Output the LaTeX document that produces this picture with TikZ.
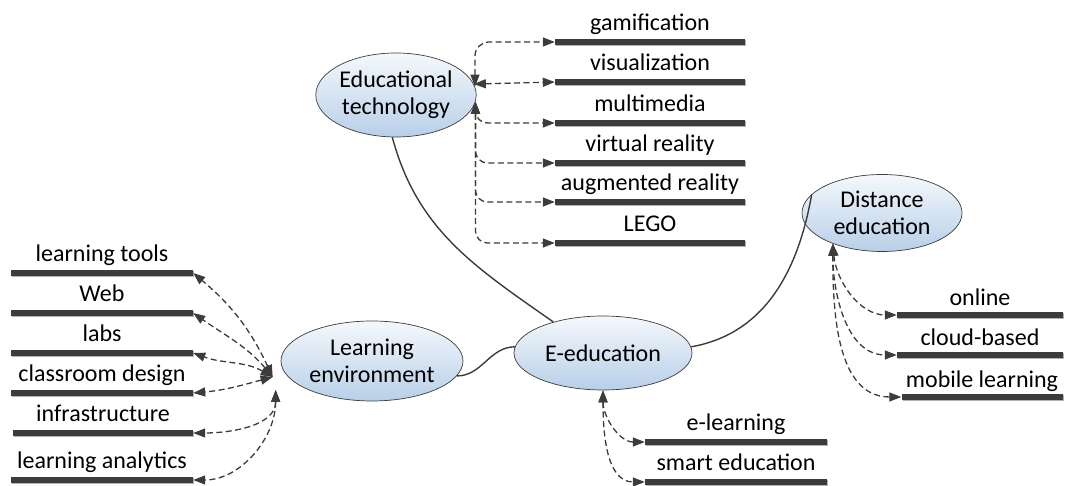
\documentclass[tikz,border=0pt]{standalone}
\usepackage{fontspec}
\setmainfont{Carlito}
\usetikzlibrary{arrows.meta,shapes.geometric,shadows}
\definecolor{dk}{HTML}{3C3C3C}
\definecolor{elltop}{HTML}{F4F8FC}
\definecolor{ellbot}{HTML}{B8CFE8}
\begin{document}
\begin{tikzpicture}[x=1pt,y=1pt,
 font=\fontsize{24}{27}\selectfont,
 topic/.style={ellipse, draw=dk, line width=0.7pt, top color=elltop, bottom color=ellbot, inner sep=0pt, align=center},
 bar/.style={rectangle, fill=dk, minimum height=6pt, inner sep=0pt, drop shadow={shadow xshift=1.2pt, shadow yshift=-1.2pt, fill=black!30, opacity=1}},
 lbl/.style={anchor=base, inner sep=0pt},
 link/.style={draw=dk, line width=1.4pt},
 dlink/.style={draw=dk, line width=1.3pt, dash pattern=on 6pt off 3.5pt, {Triangle[length=12pt,width=9pt]}-{Triangle[length=12pt,width=9pt]}},
]
\useasboundingbox (0,0) rectangle (1068,486);

% topics
\node[topic, minimum width=148pt, minimum height=84pt] (ET) at (396,391) {Educational\\technology};
\node[topic, minimum width=160pt, minimum height=77pt] (DE) at (882,273) {Distance\\education};
\node[topic, minimum width=178pt, minimum height=74pt] (EE) at (603,133) {E-education};
\node[topic, minimum width=182pt, minimum height=80pt] (LE) at (372,125) {Learning\\environment};

% top group
\foreach \n/\y/\t in {ga/444/gamification, vi/404/visualization, mm/363/multimedia, vr/323/virtual reality, ar/284/augmented reality, lg/243/LEGO}{
  \node[bar, minimum width=190pt] (\n) at (650,\y) {};
  \node[lbl] (\n t) at (650,\y+11) {\t};
}
% left group
\foreach \n/\x/\w/\y/\t in {lt/102/182/213/learning tools, wb/102/182/173/Web, lb/102/182/133/labs, cd/102/182/93/classroom design, in/103/180/53/infrastructure, la/102/182/6/learning analytics}{
  \node[bar, minimum width=\w pt] (\n) at (\x,\y) {};
  \node[lbl] (\n t) at (\x,\y+11) {\t};
}
% bottom group
\foreach \n/\y/\t in {el/44/e-learning, se/4/smart education}{
  \node[bar, minimum width=182pt] (\n) at (736,\y) {};
  \node[lbl] (\n t) at (736,\y+11) {\t};
}
% right group
\foreach \n/\x/\w/\y/\t in {on/980/166/171/online, cb/980/166/131/cloud-based, ml/982/161/89/mobile learning}{
  \node[bar, minimum width=\w pt] (\n) at (\x,\y) {};
  \node[lbl] (\n t) at (\x,\y+9) {\t};
}

% solid links
\draw[link] (ET.265) to[out=-75,in=145] (EE.148);
\draw[link] (EE.4) to[out=10,in=-100] (DE.165);
\draw[link] (LE.-10) to[out=0,in=180] (EE.176);

% educational technology
\draw[dlink, rounded corners=14pt] (ET.6) |- (ga.west);
\draw[dlink] (ET.8) -- (vi.west);
\foreach \n in {mm,vr,ar,lg}{
  \draw[dlink, rounded corners=12pt] (ET.-5) |- (\n.west);
}

% learning environment
\coordinate (LA) at ([shift={(-8pt,-16pt)}]LE.west);
\coordinate (LB) at ([shift={(-5pt,-29pt)}]LE.west);
\draw[dlink] (LA) to[out=115,in=-40] (lt.east);
\draw[dlink] (LA) to[out=130,in=-35] (wb.east);
\draw[dlink] (LA) to[out=150,in=-20] (lb.east);
\draw[dlink] (LA) to[out=195,in=5] (cd.east);
\draw[dlink] (LB) to[out=-90,in=0] (in.east);
\draw[dlink] (LB) to[out=-90,in=0] (la.east);

% e-education
\draw[dlink] (EE.south) to[out=-90,in=180] (el.west);
\draw[dlink] (EE.south) to[out=-90,in=180] (se.west);

% distance education
\draw[dlink] (DE.212) to[out=-85,in=180] (on.west);
\draw[dlink] (DE.212) to[out=-90,in=180] (cb.west);
\draw[dlink] (DE.212) to[out=-90,in=180] (ml.west);
\end{tikzpicture}
\end{document}
